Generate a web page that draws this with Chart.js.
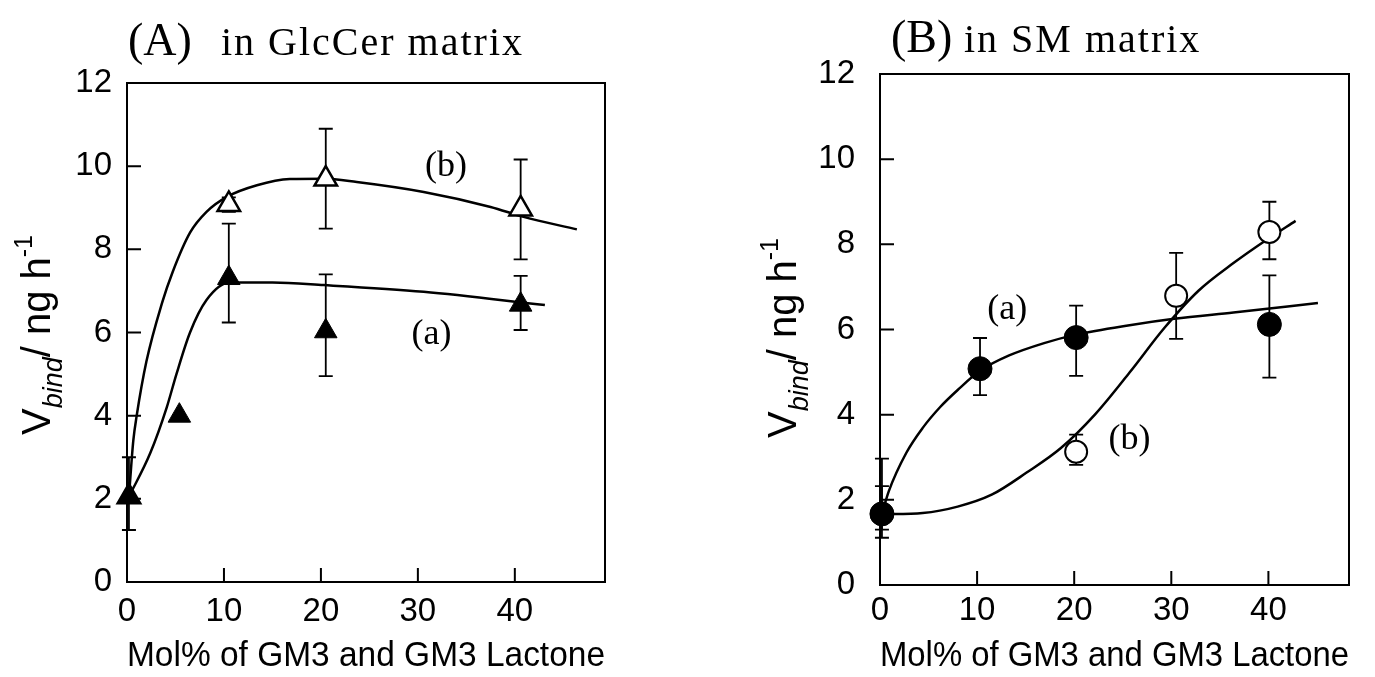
<!DOCTYPE html>
<html>
<head>
<meta charset="utf-8">
<script src="https://cdn.jsdelivr.net/npm/chart.js@4.4.0/dist/chart.umd.min.js"></script>
<style>
  body { margin: 0; background: #fff; }
  #wrapA { position: absolute; left: 0; top: 0; }
  #wrapB { position: absolute; left: 687px; top: 0; }
</style>
</head>
<body>
<div id="wrapA"><canvas id="chartA" width="687" height="677"></canvas></div>
<div id="wrapB"><canvas id="chartB" width="688" height="677"></canvas></div>
<script>
// ---- Panel A: in GlcCer matrix (triangles) ----
const xA_a = [0.2, 5.4, 10.5, 20.5, 40.6];
const yA_a = [2.05, 4.0, 7.31, 6.03, 6.67];
const errA_a_lo = [1.25, null, 6.24, 4.95, 6.06];
const errA_a_hi = [3.0, null, 8.62, 7.4, 7.36];

const xA_b = [0.2, 10.5, 20.5, 40.6];
const yA_b = [2.05, 9.08, 9.69, 8.97];
const errA_b_lo = [null, 8.9, 8.5, 7.76];
const errA_b_hi = [null, 9.25, 10.9, 10.16];

// fitted curves
const fitA_a_x = [0.2, 2.4, 4.1, 5.1, 6.5, 8.2, 10.6, 15.0, 20.3, 30.6, 43.1];
const fitA_a_y = [2.05, 3.1, 4.2, 5.0, 6.0, 6.78, 7.2, 7.2, 7.14, 6.98, 6.66];
const fitA_b_x = [0.2, 0.65, 1.0, 2.0, 3.6, 4.7, 6.5, 8.2, 10.3, 13.4, 16.8, 20.3, 23.7, 30.6, 37.5, 40.9, 46.4];
const fitA_b_y = [2.05, 3.4, 4.0, 5.3, 6.7, 7.45, 8.4, 8.9, 9.26, 9.54, 9.69, 9.7, 9.62, 9.38, 9.02, 8.78, 8.48];

// ---- Panel B: in SM matrix (circles) ----
const xB_a = [0.2, 10.3, 20.2, 40.1];
const yB_a = [1.67, 5.08, 5.81, 6.12];
const errB_a_lo = [1.11, 4.46, 4.91, 4.87];
const errB_a_hi = [2.32, 5.8, 6.56, 7.27];

const xB_b = [0.2, 20.2, 30.5, 40.1];
const yB_b = [1.67, 3.13, 6.79, 8.29];
const errB_b_lo = [1.3, 2.82, 5.78, 7.65];
const errB_b_hi = [2.97, 3.53, 7.8, 9.0];

const fitB_a_x = [0.2, 0.9, 2.7, 4.4, 6.2, 8.0, 10.3, 13.3, 16.9, 20.2, 25.7, 30.3, 36.4, 45.1];
const fitB_a_y = [1.67, 2.2, 3.1, 3.69, 4.18, 4.58, 5.03, 5.39, 5.68, 5.88, 6.1, 6.25, 6.4, 6.62];
const fitB_b_x = [0.2, 4.4, 8.0, 11.5, 15.1, 18.6, 22.2, 25.7, 29.3, 32.8, 36.4, 39.9, 42.8];
const fitB_b_y = [1.66, 1.69, 1.84, 2.12, 2.64, 3.21, 4.02, 4.99, 6.04, 6.91, 7.56, 8.12, 8.55];

const xTicks = [0, 10, 20, 30, 40];
const yTicks = [0, 2, 4, 6, 8, 10, 12];
const xTitle = "Mol% of GM3 and GM3 Lactone";

const SANS = '"Liberation Sans", Arial, Helvetica, sans-serif';
const SERIF = '"Liberation Serif", "Times New Roman", serif';

function pts(xs, ys) {
    return xs.map((x, i) => ({ x: x, y: ys[i] }));
}

// box, inward ticks and error bars (under the markers)
const frameAndErrors = {
    id: "frameAndErrors",
    beforeDatasetsDraw(chart, args, opts) {
        const ctx = chart.ctx, a = chart.chartArea;
        const x = chart.scales.x, y = chart.scales.y;
        ctx.save();
        ctx.strokeStyle = "#000";
        ctx.lineWidth = 2;
        ctx.strokeRect(a.left, a.top, a.right - a.left, a.bottom - a.top);
        ctx.beginPath();
        y.ticks.forEach(t => {
            if (t.value <= y.min || t.value >= y.max) return;
            const py = y.getPixelForValue(t.value);
            ctx.moveTo(a.left, py);
            ctx.lineTo(a.left + opts.len, py);
        });
        x.ticks.forEach(t => {
            if (t.value <= x.min || t.value >= x.max) return;
            const px = x.getPixelForValue(t.value);
            ctx.moveTo(px, a.bottom);
            ctx.lineTo(px, a.bottom - opts.len);
        });
        ctx.stroke();

        ctx.lineWidth = 1.8;
        chart.data.datasets.forEach(ds => {
            if (!ds.errLo) return;
            ds.data.forEach((p, j) => {
                const lo = ds.errLo[j], hi = ds.errHi[j];
                if (lo == null || hi == null) return;
                const px = x.getPixelForValue(p.x);
                const p1 = y.getPixelForValue(lo), p2 = y.getPixelForValue(hi);
                ctx.beginPath();
                ctx.moveTo(px, p1); ctx.lineTo(px, p2);
                ctx.moveTo(px - opts.cap, p1); ctx.lineTo(px + opts.cap, p1);
                ctx.moveTo(px - opts.cap, p2); ctx.lineTo(px + opts.cap, p2);
                ctx.stroke();
            });
        });
        ctx.restore();
    }
};

// panel title, curve labels, y axis title
const decorations = {
    id: "decorations",
    afterDraw(chart, args, o) {
        const ctx = chart.ctx;
        const x = chart.scales.x, y = chart.scales.y;
        ctx.save();
        ctx.fillStyle = "#000";
        ctx.textAlign = "left";
        ctx.textBaseline = "alphabetic";
        ctx.font = "46px " + SERIF;
        ctx.fillText(o.tag, o.tagX, o.titleY);
        ctx.font = "40px " + SERIF;
        ctx.letterSpacing = "2px";
        ctx.fillText(o.title, o.titleX, o.titleY);
        ctx.letterSpacing = "0px";

        ctx.font = "36px " + SERIF;
        ctx.textAlign = "center";
        ctx.textBaseline = "middle";
        o.curveLabels.forEach(l => {
            ctx.fillText(l.text, x.getPixelForValue(l.x), y.getPixelForValue(l.y));
        });

        // V_bind / ng h^-1, rotated
        const parts = [
            { t: "V", f: "40px " + SANS, dy: 0 },
            { t: "bind", f: "italic 27px " + SANS, dy: 12 },
            { t: "/", f: "40px " + SANS, dy: 0 },
            { t: " ng h", f: "40px " + SANS, dy: 0 },
            { t: "-1", f: "25px " + SANS, dy: -18 }
        ];
        let total = 0;
        parts.forEach(p => { ctx.font = p.f; p.w = ctx.measureText(p.t).width; total += p.w; });
        ctx.translate(o.yTitleX, o.yTitleY);
        ctx.rotate(-Math.PI / 2);
        ctx.textAlign = "left";
        ctx.textBaseline = "alphabetic";
        let cx = -total / 2;
        parts.forEach(p => {
            ctx.font = p.f;
            ctx.fillText(p.t, cx, p.dy);
            cx += p.w;
        });
        ctx.restore();
    }
};

function panel(canvasId, cfg) {
    return new Chart(document.getElementById(canvasId), {
        type: "scatter",
        data: { datasets: cfg.datasets },
        options: {
            responsive: false,
            animation: false,
            events: [],
            layout: { padding: cfg.padding },
            plugins: {
                legend: { display: false },
                tooltip: { enabled: false },
                frameAndErrors: { len: 14, cap: 7 },
                decorations: cfg.deco
            },
            scales: {
                x: {
                    type: "linear",
                    min: 0,
                    max: cfg.xMax,
                    afterFit: s => { s.height = cfg.xHeight; },
                    afterBuildTicks: s => { s.ticks = xTicks.map(v => ({ value: v })); },
                    ticks: { color: "#000", padding: cfg.xPad, maxRotation: 0, font: { family: SANS, size: 33 } },
                    grid: { display: false, drawTicks: false },
                    border: { display: false },
                    title: {
                        display: true,
                        text: xTitle,
                        color: "#000",
                        padding: { top: 0, bottom: 0 },
                        font: { family: SANS, size: 35 }
                    }
                },
                y: {
                    type: "linear",
                    min: 0,
                    max: 12,
                    afterFit: s => { s.width = cfg.yWidth; },
                    afterBuildTicks: s => { s.ticks = yTicks.map(v => ({ value: v })); },
                    ticks: { color: "#000", padding: cfg.yPad, font: { family: SANS, size: 33 } },
                    grid: { display: false, drawTicks: false },
                    border: { display: false }
                }
            }
        },
        plugins: [frameAndErrors, decorations]
    });
}

const fitLine = { showLine: true, pointRadius: 0, borderColor: "#000", borderWidth: 2.5, cubicInterpolationMode: "monotone", order: 3 };

panel("chartA", {
    padding: { left: 0, top: 83, right: 82, bottom: 0 },
    xMax: 49.3, xHeight: 95, yWidth: 127, xPad: 10, yPad: 15,
    deco: {
        tag: "(A)", tagX: 128, title: "in GlcCer matrix", titleX: 221, titleY: 55,
        yTitleX: 50, yTitleY: 335,
        curveLabels: [{ text: "(b)", x: 32.9, y: 9.98 }, { text: "(a)", x: 31.4, y: 5.94 }]
    },
    datasets: [
        Object.assign({ data: pts(fitA_a_x, fitA_a_y) }, fitLine),
        Object.assign({ data: pts(fitA_b_x, fitA_b_y) }, fitLine),
        { data: pts(xA_b, yA_b), errLo: errA_b_lo, errHi: errA_b_hi, pointStyle: "triangle", pointRadius: 13,
          backgroundColor: "#fff", borderColor: "#000", borderWidth: 2.5, clip: false, order: 2 },
        { data: pts(xA_a, yA_a), errLo: errA_a_lo, errHi: errA_a_hi, pointStyle: "triangle", pointRadius: 13,
          backgroundColor: "#000", borderColor: "#000", borderWidth: 1, clip: false, order: 1 }
    ]
});

panel("chartB", {
    padding: { left: 0, top: 74, right: 26, bottom: 0 },
    xMax: 48.3, xHeight: 92, yWidth: 193, xPad: 6, yPad: 25,
    deco: {
        tag: "(B)", tagX: 204, title: "in SM matrix", titleX: 277, titleY: 52,
        yTitleX: 109, yTitleY: 338,
        curveLabels: [{ text: "(a)", x: 13.1, y: 6.47 }, { text: "(b)", x: 25.7, y: 3.41 }]
    },
    datasets: [
        Object.assign({ data: pts(fitB_a_x, fitB_a_y) }, fitLine),
        Object.assign({ data: pts(fitB_b_x, fitB_b_y) }, fitLine),
        { data: pts(xB_b, yB_b), errLo: errB_b_lo, errHi: errB_b_hi, pointStyle: "circle", pointRadius: 11,
          backgroundColor: "#fff", borderColor: "#000", borderWidth: 2, clip: false, order: 2 },
        { data: pts(xB_a, yB_a), errLo: errB_a_lo, errHi: errB_a_hi, pointStyle: "circle", pointRadius: 12,
          backgroundColor: "#000", borderColor: "#000", borderWidth: 1, clip: false, order: 1 }
    ]
});
</script>
</body>
</html>
